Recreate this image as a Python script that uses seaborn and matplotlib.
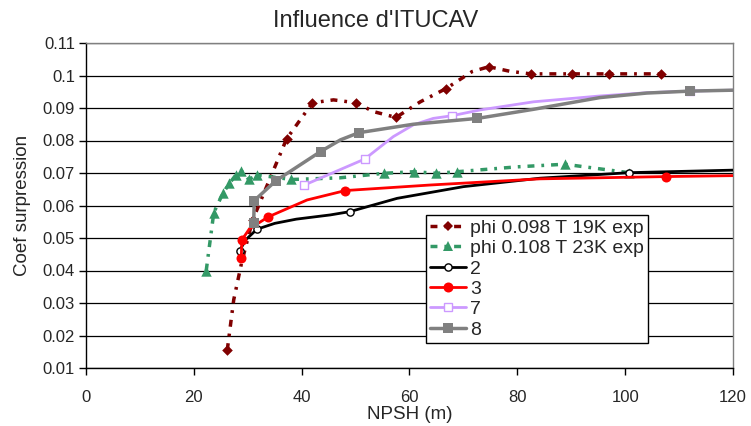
"""Influence d'ITUCAV : coefficient de surpression en fonction du NPSH."""
import matplotlib
matplotlib.use("Agg")
import matplotlib.pyplot as plt
from matplotlib.lines import Line2D
import seaborn as sns

# --- données ---
# phi 0.098 T 19K exp
exp19_x = [26.2, 27.4, 28.9, 30.9, 37.2, 42.0, 45.9, 50.1, 53.3, 57.5, 62.0, 66.8, 71.6, 74.7, 78.6, 82.5, 90.1, 97.0, 106.6]
exp19_y = [0.0155, 0.031, 0.0427, 0.0555, 0.0805, 0.0916, 0.0925, 0.0916, 0.0889, 0.0871, 0.0919, 0.0960, 0.1012, 0.1027, 0.1013, 0.1005, 0.1005, 0.1005, 0.1005]
exp19_mx = [26.2, 30.9, 37.2, 42.0, 50.1, 57.5, 66.8, 74.7, 82.5, 90.1, 97.0, 106.6]
exp19_my = [0.0155, 0.0555, 0.0805, 0.0916, 0.0916, 0.0871, 0.0960, 0.1027, 0.1005, 0.1005, 0.1005, 0.1005]

# phi 0.108 T 23K exp
exp23_x = [22.3, 23.7, 25.4, 26.6, 27.8, 28.8, 30.2, 31.8, 38.1, 47.0, 55.2, 60.9, 65.0, 68.9, 80.0, 88.8, 100.7]
exp23_y = [0.0400, 0.0578, 0.0638, 0.0668, 0.0694, 0.0707, 0.0680, 0.0694, 0.0680, 0.0685, 0.0699, 0.0704, 0.0699, 0.0704, 0.0719, 0.0727, 0.0701]
exp23_mx = [22.3, 23.7, 25.4, 26.6, 27.8, 28.8, 30.2, 31.8, 38.1, 55.2, 60.9, 65.0, 68.9, 88.8, 100.7]
exp23_my = [0.0400, 0.0578, 0.0638, 0.0668, 0.0694, 0.0707, 0.0680, 0.0694, 0.0680, 0.0699, 0.0704, 0.0699, 0.0704, 0.0727, 0.0701]

# calcul 2
c2_x = [28.5, 29.6, 31.7, 35.0, 39.0, 45.3, 48.9, 57.7, 70.0, 84.2, 100.7, 120.5]
c2_y = [0.0461, 0.0494, 0.0527, 0.0545, 0.0558, 0.0571, 0.0581, 0.0622, 0.0658, 0.0684, 0.0701, 0.0709]
c2_mx = [28.5, 31.7, 48.9, 100.7]
c2_my = [0.0461, 0.0527, 0.0581, 0.0701]

# calcul 3
c3_x = [28.8, 28.9, 30.3, 33.8, 41.0, 48.1, 63.8, 84.2, 107.5, 120.5]
c3_y = [0.0438, 0.0494, 0.0528, 0.0565, 0.0617, 0.0646, 0.0663, 0.0682, 0.0689, 0.0692]
c3_mx = [28.8, 28.9, 33.8, 48.1, 107.5]
c3_my = [0.0438, 0.0494, 0.0565, 0.0646, 0.0689]

# calcul 7
c7_x = [40.5, 51.7, 57.0, 60.7, 64.4, 67.8, 73.1, 83.0, 95.3, 104.0, 112.0, 120.5]
c7_y = [0.0663, 0.0743, 0.0812, 0.0848, 0.0868, 0.0876, 0.0894, 0.0919, 0.0937, 0.0947, 0.0952, 0.0955]
c7_mx = [40.5, 51.7, 67.8, 112.0]
c7_my = [0.0663, 0.0743, 0.0876, 0.0952]

# calcul 8
c8_x = [31.1, 31.2, 35.2, 43.5, 47.2, 50.6, 60.7, 72.6, 83.0, 95.3, 104.0, 112.1, 120.5]
c8_y = [0.0547, 0.0615, 0.0676, 0.0766, 0.0802, 0.0824, 0.0850, 0.0868, 0.0896, 0.0932, 0.0946, 0.0952, 0.0955]
c8_mx = [31.1, 31.2, 35.2, 43.5, 50.6, 72.6, 112.1]
c8_my = [0.0547, 0.0615, 0.0676, 0.0766, 0.0824, 0.0868, 0.0952]

labels = ["phi 0.098 T 19K exp", "phi 0.108 T 23K exp", "2", "3", "7", "8"]
x_ticks = [0, 20, 40, 60, 80, 100, 120]
y_ticks = [0.01, 0.02, 0.03, 0.04, 0.05, 0.06, 0.07, 0.08, 0.09, 0.10, 0.11]
y_tick_labels = ["0.01", "0.02", "0.03", "0.04", "0.05", "0.06", "0.07", "0.08", "0.09", "0.1", "0.11"]

sns.set_style("white")
plt.rcParams["font.family"] = ["Liberation Sans", "DejaVu Sans"]

fig = plt.figure(figsize=(7.51, 4.26), dpi=100)
ax = fig.add_axes([86 / 751, 1 - 368 / 426, (733 - 86) / 751, (368 - 43) / 426])

dashdot = (0, (2, 2, 0.8, 2))
series = [
    # courbe x, y, marqueurs x, y, couleur, style, épaisseur, marqueur, taille, fond, bord
    (exp19_x, exp19_y, exp19_mx, exp19_my, "#800000", dashdot, 2.5, "D", 5.4, "#800000", 0),
    (exp23_x, exp23_y, exp23_mx, exp23_my, "#339966", dashdot, 2.5, "^", 7.5, "#339966", 0),
    (c2_x, c2_y, c2_mx, c2_my, "black", "-", 2, "o", 5.2, "white", 1),
    (c3_x, c3_y, c3_mx, c3_my, "#ff0000", "-", 2, "o", 7.2, "#ff0000", 0),
    (c7_x, c7_y, c7_mx, c7_my, "#cc99ff", "-", 2, "s", 5.8, "white", 1),
    (c8_x, c8_y, c8_mx, c8_my, "#808080", "-", 2.5, "s", 6.8, "#808080", 0),
]

handles = []
for i, (lx, ly, mx, my, col, ls, lw, mk, ms, fc, ew) in enumerate(series):
    z = 3 + i
    sns.lineplot(x=lx, y=ly, sort=False, estimator=None, color=col, linestyle=ls,
                 linewidth=lw, ax=ax, zorder=z)
    sns.scatterplot(x=mx, y=my, marker=mk, s=ms ** 2, color=fc, edgecolor=col,
                    linewidth=ew, ax=ax, zorder=z + 0.5)
    handles.append(Line2D([], [], color=col, linestyle=ls, linewidth=lw, marker=mk,
                          markersize=ms, markerfacecolor=fc, markeredgecolor=col,
                          markeredgewidth=ew))

ax.set_xlim(0, 120)
ax.set_ylim(0.01, 0.11)
ax.set_xticks(x_ticks)
ax.set_yticks(y_ticks)
ax.set_yticklabels(y_tick_labels)
ax.tick_params(axis="both", labelsize=12, length=5, width=1, direction="out",
               color="black", pad=3, bottom=True, left=True)
ax.tick_params(axis="x", pad=10.5)
ax.grid(axis="y", color="black", linewidth=0.9)
ax.grid(axis="x", visible=False)
ax.set_axisbelow(True)
for side in ["left", "bottom"]:
    ax.spines[side].set_color("black")
    ax.spines[side].set_linewidth(1)
for side in ["top", "right"]:
    ax.spines[side].set_color("#808080")
    ax.spines[side].set_linewidth(1)

# titre centré sur la zone du graphique entier, comme dans Excel
fig.text(0.5, 1 - 27 / 426, "Influence d'ITUCAV", fontsize=17, ha="center", va="baseline")
ax.set_xlabel("NPSH (m)", fontsize=13.5, labelpad=1)
ax.set_ylabel("Coef surpression", fontsize=13.5, labelpad=8)

leg = ax.legend(handles, labels, loc="upper left", bbox_to_anchor=(426 / 751, 1 - 215 / 426),
                bbox_transform=fig.transFigure, borderaxespad=0, fontsize=14,
                frameon=True, fancybox=False, framealpha=1, edgecolor="black",
                handlelength=1.85, handletextpad=0.2, labelspacing=0.14, borderpad=0.22)
leg.get_frame().set_linewidth(1)
leg.set_zorder(20)

fig.savefig("out.png", dpi=100)
plt.close(fig)
